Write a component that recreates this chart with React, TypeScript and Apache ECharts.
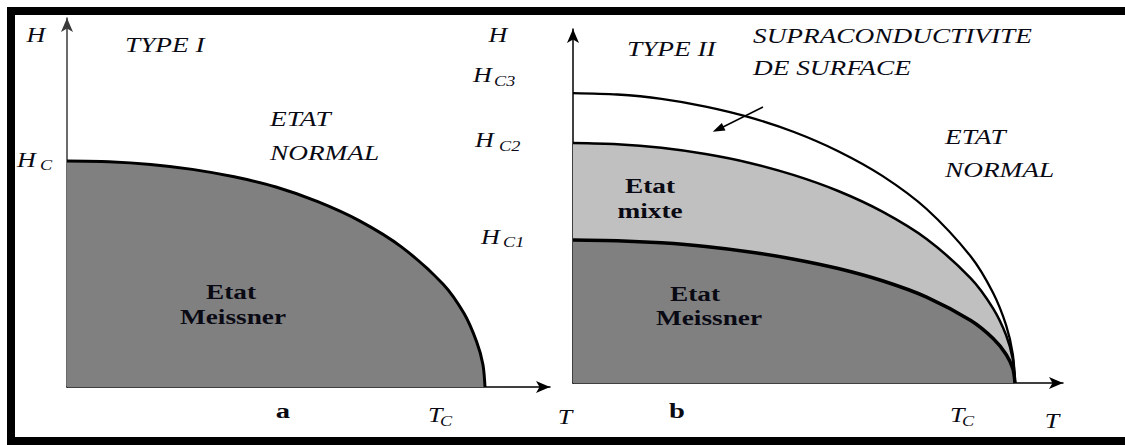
import React, { useEffect, useRef } from "react";
import * as echarts from "echarts";

// Panel a (type I): reduced temperature T/Tc and critical field H/Hc
const T_A = [0, 0.1, 0.2, 0.3, 0.4, 0.5, 0.6, 0.7, 0.8, 0.9, 0.95, 0.98, 0.995, 1];
const H_A = [1.0, 0.997, 0.985, 0.963, 0.93, 0.885, 0.82, 0.735, 0.62, 0.455, 0.325, 0.2, 0.1, 0];

// Panel b (type II): fields in units of Hc2
const T_B = [0, 0.1, 0.2, 0.3, 0.4, 0.5, 0.6, 0.7, 0.8, 0.9, 0.95, 0.98, 0.995, 1];
const H_C3 = [1.208, 1.202, 1.184, 1.152, 1.107, 1.046, 0.966, 0.863, 0.725, 0.527, 0.377, 0.24, 0.12, 0];
const H_C2 = [1.0, 0.995, 0.98, 0.954, 0.917, 0.866, 0.8, 0.714, 0.6, 0.436, 0.312, 0.199, 0.1, 0];
const H_C1 = [0.596, 0.593, 0.584, 0.569, 0.546, 0.516, 0.477, 0.426, 0.358, 0.26, 0.186, 0.119, 0.06, 0];

// axis labels
const AXIS_LABELS = { h: "H", t: "T", tc: "T", c: "C" };
const FIELD_SUBS = ["C3", "C2", "C1"];

const SERIF = "Liberation Serif";
const SX = 1.3;

function txt(text: string, x: number, y: number, o: any = {}) {
  const size = o.size ?? 20;
  const align = o.align ?? "left";
  return {
    type: "text",
    x,
    y,
    scaleX: SX,
    z: 100,
    style: {
      text,
      fill: "#0a0a14",
      fontFamily: SERIF,
      fontSize: size,
      fontStyle: o.bold ? "normal" : "italic",
      fontWeight: o.bold ? "bold" : "normal",
      align,
      verticalAlign: "middle",
      textAlign: align,
      textVerticalAlign: "middle",
    },
  };
}

const zip = (xs: number[], ys: number[]) => xs.map((x, i) => [x, ys[i]]);

export default function App() {
  const ref = useRef<HTMLDivElement>(null);
  useEffect(() => {
    document.body.style.margin = "0";
    const chart = echarts.init(ref.current!, null, { renderer: "svg" });

    // Panel a geometry: origin (67,387), Tc at 418px, Hc at 226px
    const axA = { left: 67, top: 18, width: 483, height: 369 };
    const xMaxA = 483 / 418;
    const yMaxA = 369 / 226;
    // Panel b geometry: origin (573,383), Tc at 442px, Hc2 at 240px
    const axB = { left: 573, top: 29, width: 490, height: 354 };
    const xMaxB = 490 / 442;
    const yMaxB = 354 / 240;

    const axisCommon = (color: string) => ({
      type: "value",
      axisLine: {
        show: true,
        onZero: false,
        lineStyle: { color, width: 1.5 },
        symbol: ["none", "arrow"],
        symbolSize: [9, 14],
      },
      axisTick: { show: false },
      axisLabel: { show: false },
      splitLine: { show: false },
    });

    const lineCommon = {
      type: "line",
      symbol: "none",
      smooth: 0.3,
      silent: true,
    };

    const option: any = {
      animation: false,
      backgroundColor: "#ffffff",
      grid: [
        { ...axA, containLabel: false },
        { ...axB, containLabel: false },
      ],
      xAxis: [
        { ...axisCommon("#000"), gridIndex: 0, min: 0, max: xMaxA },
        { ...axisCommon("#000"), gridIndex: 1, min: 0, max: xMaxB },
      ],
      yAxis: [
        { ...axisCommon("#3a3a3a"), gridIndex: 0, min: 0, max: yMaxA },
        { ...axisCommon("#000"), gridIndex: 1, min: 0, max: yMaxB },
      ],
      series: [
        {
          ...lineCommon,
          name: "Hc",
          xAxisIndex: 0,
          yAxisIndex: 0,
          data: zip(T_A, H_A),
          lineStyle: { color: "#000", width: 3 },
          areaStyle: { color: "#808080", opacity: 1 },
          z: 3,
        },
        {
          ...lineCommon,
          name: "Hc2",
          xAxisIndex: 1,
          yAxisIndex: 1,
          data: zip(T_B, H_C2),
          lineStyle: { color: "#000", width: 2.5 },
          areaStyle: { color: "#c0c0c0", opacity: 1 },
          z: 3,
        },
        {
          ...lineCommon,
          name: "Hc1",
          xAxisIndex: 1,
          yAxisIndex: 1,
          data: zip(T_B, H_C1),
          lineStyle: { color: "#000", width: 3.5 },
          areaStyle: { color: "#808080", opacity: 1 },
          z: 4,
        },
        {
          ...lineCommon,
          name: "Hc3",
          xAxisIndex: 1,
          yAxisIndex: 1,
          data: zip(T_B, H_C3),
          lineStyle: { color: "#000", width: 2.3 },
          z: 5,
        },
      ],
      graphic: [
        // outer frame
        {
          type: "rect",
          shape: { x: 11, y: 11, width: 1200, height: 430 },
          style: { fill: "none", stroke: "#000", lineWidth: 8 },
          z: 50,
        },
        // panel a labels
        txt(AXIS_LABELS.h, 36, 35, { align: "center" }),
        txt("TYPE I", 125, 45, { size: 21 }),
        txt("ETAT", 270, 119, { size: 21 }),
        txt("NORMAL", 270, 153, { size: 21 }),
        txt(AXIS_LABELS.h, 17, 160),
        txt(AXIS_LABELS.c, 40, 166, { size: 14 }),
        txt("Etat", 231, 292, { bold: true, size: 21, align: "center" }),
        txt("Meissner", 233, 317, { bold: true, size: 21, align: "center" }),
        txt("a", 283, 411, { bold: true, size: 22, align: "center" }),
        txt(AXIS_LABELS.tc, 428, 415),
        txt(AXIS_LABELS.c, 440, 422, { size: 14 }),
        txt(AXIS_LABELS.t, 565, 417, { align: "center" }),
        // panel b labels
        txt(AXIS_LABELS.h, 498, 35, { align: "center" }),
        txt(AXIS_LABELS.h, 473, 75),
        txt(FIELD_SUBS[0], 494, 82, { size: 14 }),
        txt(AXIS_LABELS.h, 475, 140),
        txt(FIELD_SUBS[1], 499, 147, { size: 14 }),
        txt(AXIS_LABELS.h, 481, 237),
        txt(FIELD_SUBS[2], 503, 243, { size: 14 }),
        txt("TYPE II", 627, 49, { size: 21 }),
        txt("SUPRACONDUCTIVITE", 753, 36, { size: 21 }),
        txt("DE SURFACE", 753, 68, { size: 21 }),
        txt("ETAT", 945, 137, { size: 21 }),
        txt("NORMAL", 945, 170, { size: 21 }),
        txt("Etat", 650, 186, { bold: true, size: 21, align: "center" }),
        txt("mixte", 650, 211, { bold: true, size: 21, align: "center" }),
        txt("Etat", 695, 294, { bold: true, size: 21, align: "center" }),
        txt("Meissner", 709, 318, { bold: true, size: 21, align: "center" }),
        txt("b", 677, 411, { bold: true, size: 22, align: "center" }),
        txt(AXIS_LABELS.tc, 950, 415),
        txt(AXIS_LABELS.c, 962, 422, { size: 14 }),
        txt(AXIS_LABELS.t, 1052, 421, { align: "center" }),
        // pointer arrow to surface superconductivity band
        {
          type: "line",
          shape: { x1: 763, y1: 107, x2: 722, y2: 127.5 },
          style: { stroke: "#000", lineWidth: 1.5 },
          z: 60,
        },
        {
          type: "polygon",
          shape: { points: [[712.7, 131.8], [725.5, 130.4], [721.8, 123.0]] },
          style: { fill: "#000" },
          z: 60,
        },
      ],
    };
    chart.setOption(option);
    return () => chart.dispose();
  }, []);
  return (
    <div
      ref={ref}
      style={{ position: "absolute", left: 0, top: 0, width: 1125, height: 445 }}
    />
  );
}
